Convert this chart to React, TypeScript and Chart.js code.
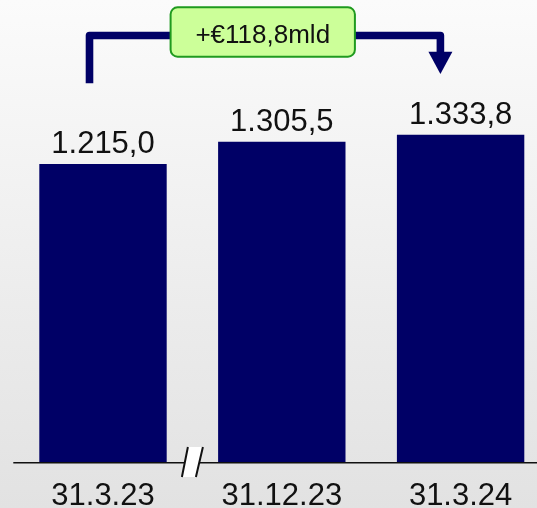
import React, { useEffect, useRef } from "react";
import { Chart, registerables } from "chart.js";

Chart.register(...registerables);

const categories: string[] = ["31.3.23", "31.12.23", "31.3.24"];
const values: number[] = [1215.0, 1305.5, 1333.8];
const deltaLabel = "+€118,8mld";
const yMax = 1800;

function formatIt(v: number): string {
  const fixed = v.toFixed(1);
  const [intPart, dec] = fixed.split(".");
  const grouped = intPart.replace(/\B(?=(\d{3})+(?!\d))/g, ".");
  return grouped + "," + dec;
}

const FONT = "'Liberation Sans', Arial, sans-serif";
const NAVY = "#000066";

const decorPlugin = {
  id: "decor",
  afterDatasetsDraw(chart: any) {
    const ctx: CanvasRenderingContext2D = chart.ctx;
    const xs = chart.scales.x;
    const area = chart.chartArea;
    const meta = chart.getDatasetMeta(0);
    ctx.save();

    // baseline
    ctx.strokeStyle = "#111";
    ctx.lineWidth = 1.6;
    ctx.beginPath();
    ctx.moveTo(area.left - 0.3, area.bottom + 0.7);
    ctx.lineTo(chart.width, area.bottom + 0.7);
    ctx.stroke();

    // axis break mark
    const mid = (xs.getPixelForValue(0) + xs.getPixelForValue(1)) / 2;
    const yT = area.bottom - 15;
    const yB = area.bottom + 15;
    ctx.fillStyle = "#ffffff";
    ctx.beginPath();
    ctx.moveTo(mid - 4.5, yT);
    ctx.lineTo(mid + 10.5, yT);
    ctx.lineTo(mid + 3.5, yB);
    ctx.lineTo(mid - 10.5, yB);
    ctx.closePath();
    ctx.fill();
    ctx.strokeStyle = "#111";
    ctx.lineWidth = 2;
    ctx.beginPath();
    ctx.moveTo(mid - 4.5, yT);
    ctx.lineTo(mid - 10.5, yB);
    ctx.moveTo(mid + 10.5, yT);
    ctx.lineTo(mid + 3.5, yB);
    ctx.stroke();

    // value labels
    ctx.fillStyle = "#111";
    ctx.font = `31px ${FONT}`;
    ctx.textAlign = "center";
    ctx.textBaseline = "alphabetic";
    meta.data.forEach((bar: any, i: number) => {
      ctx.fillText(formatIt(values[i]), bar.x, bar.y - 11);
    });

    // category labels
    categories.forEach((c, i) => {
      ctx.fillText(c, xs.getPixelForValue(i), 504.5);
    });

    // bracket arrow
    const x0 = xs.getPixelForValue(0) - 13.5;
    const x2 = xs.getPixelForValue(2) - 20.2;
    const yLine = area.top + 15;
    ctx.strokeStyle = NAVY;
    ctx.lineWidth = 7.6;
    ctx.lineJoin = "round";
    ctx.lineCap = "butt";
    ctx.beginPath();
    ctx.moveTo(x0, 83.3);
    ctx.lineTo(x0, yLine);
    ctx.lineTo(x2, yLine);
    ctx.lineTo(x2, 53);
    ctx.stroke();
    ctx.fillStyle = NAVY;
    ctx.beginPath();
    ctx.moveTo(x2 - 12, 51.7);
    ctx.lineTo(x2 + 12, 51.7);
    ctx.lineTo(x2, 74);
    ctx.closePath();
    ctx.fill();

    // green label box
    const bw = 184.3;
    const bh = 49.4;
    const bcx = (x0 + x2) / 2 - 2.2;
    const bx = bcx - bw / 2;
    const by = 7.3;
    ctx.beginPath();
    (ctx as any).roundRect(bx, by, bw, bh, 7);
    ctx.fillStyle = "#ccff99";
    ctx.fill();
    ctx.strokeStyle = "#1f9a1f";
    ctx.lineWidth = 2;
    ctx.stroke();
    ctx.fillStyle = "#111";
    ctx.font = `26px ${FONT}`;
    ctx.textAlign = "center";
    ctx.textBaseline = "alphabetic";
    ctx.fillText(deltaLabel, bcx, 43.3);

    ctx.restore();
  },
};

export default function App() {
  const ref = useRef<HTMLCanvasElement | null>(null);
  useEffect(() => {
    if (!ref.current) return;
    const chart = new Chart(ref.current, {
      type: "bar",
      data: {
        labels: categories,
        datasets: [
          {
            data: values,
            backgroundColor: NAVY,
            borderWidth: 0,
            barPercentage: 0.7125,
            categoryPercentage: 1,
          },
        ],
      },
      options: {
        responsive: false,
        animation: false,
        devicePixelRatio: 1,
        layout: { padding: { left: 13.6, right: 1, top: 20.5, bottom: 46 } },
        scales: {
          x: { display: false },
          y: { display: false, min: 0, max: yMax },
        },
        plugins: {
          legend: { display: false },
          tooltip: { enabled: false },
        },
      },
      plugins: [decorPlugin],
    });
    return () => chart.destroy();
  }, []);

  return (
    <div
      style={{
        position: "fixed",
        left: 0,
        top: 0,
        width: 537,
        height: 508,
        overflow: "hidden",
        background: "linear-gradient(#fbfbfb, #e2e2e2)",
      }}
    >
      <canvas ref={ref} width={551} height={508} style={{ display: "block", width: 551, height: 508 }} />
    </div>
  );
}
